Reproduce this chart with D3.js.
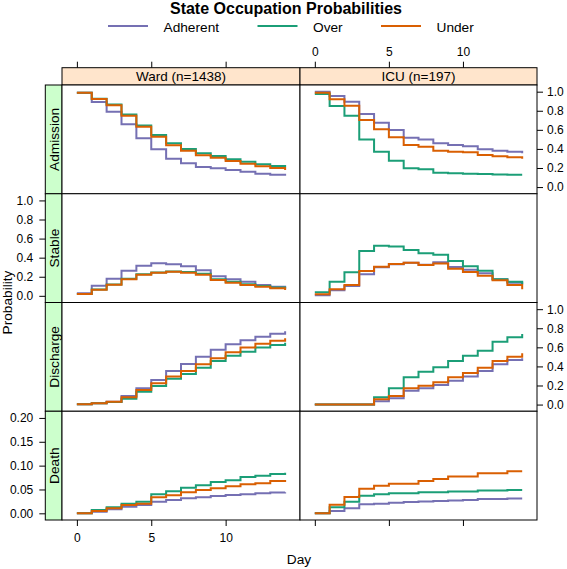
<!DOCTYPE html>
<html><head><meta charset="utf-8">
<script src="https://cdn.jsdelivr.net/npm/d3@7"></script>
<style>
body{margin:0;background:#fff}
svg{display:block}
text{font-family:"Liberation Sans",Arial,Helvetica,sans-serif;fill:#000}
</style>
</head><body>
<svg id="chart" width="567" height="569"></svg>
<script>
// ---------- data ----------
const days = [0,1,2,3,4,5,6,7,8,9,10,11,12,13,14];
const groups = ["Adherent","Over","Under"];
const groupColors = ["#7570B3","#1B9E77","#D95F02"];
const units = ["Ward (n=1438)","ICU (n=197)"];
const states = ["Admission","Stable","Discharge","Death"];
const probTicks = [0,0.2,0.4,0.6,0.8,1.0];
const deathTicks = [0,0.05,0.10,0.15,0.20];
const dayTicks = [0,5,10];

// Ward
const wardAdmissionAdherent = [0.99,0.892,0.79,0.658,0.511,0.396,0.297,0.249,0.21,0.197,0.179,0.161,0.14,0.13,0.12];
const wardAdmissionOver     = [0.99,0.925,0.865,0.76,0.645,0.545,0.459,0.399,0.354,0.326,0.291,0.266,0.238,0.221,0.21];
const wardAdmissionUnder    = [0.99,0.923,0.857,0.748,0.633,0.528,0.438,0.381,0.333,0.308,0.273,0.245,0.218,0.20,0.18];
const wardStableAdherent = [0.026,0.106,0.18,0.263,0.316,0.341,0.33,0.309,0.267,0.205,0.173,0.148,0.113,0.096,0.08];
const wardStableOver     = [0.02,0.066,0.12,0.178,0.225,0.245,0.255,0.25,0.232,0.175,0.148,0.122,0.103,0.088,0.075];
const wardStableUnder    = [0.019,0.064,0.117,0.173,0.222,0.243,0.253,0.243,0.222,0.166,0.138,0.113,0.096,0.079,0.06];
const wardDischargeAdherent = [0.003,0.013,0.03,0.09,0.17,0.258,0.352,0.425,0.502,0.575,0.632,0.674,0.712,0.743,0.768];
const wardDischargeOver     = [0.003,0.013,0.028,0.062,0.135,0.195,0.27,0.32,0.387,0.457,0.512,0.554,0.597,0.625,0.649];
const wardDischargeUnder    = [0.003,0.013,0.03,0.076,0.153,0.223,0.293,0.352,0.422,0.485,0.548,0.597,0.638,0.67,0.695];
const wardDeathAdherent = [0,0.0035,0.0084,0.014,0.0175,0.0245,0.028,0.0315,0.0336,0.0364,0.0385,0.040,0.042,0.0434,0.044];
const wardDeathOver     = [0,0.007,0.0126,0.020,0.0244,0.040,0.0462,0.0538,0.0587,0.0657,0.0692,0.0762,0.079,0.0824,0.085];
const wardDeathUnder    = [0,0.005,0.0105,0.0175,0.020,0.0336,0.0378,0.044,0.049,0.0524,0.0566,0.0608,0.063,0.0678,0.070];
// ICU
const icuAdmissionAdherent = [1.0,0.955,0.895,0.766,0.675,0.598,0.518,0.50,0.459,0.441,0.427,0.396,0.381,0.371,0.354];
const icuAdmissionOver     = [0.976,0.85,0.748,0.50,0.371,0.277,0.197,0.186,0.151,0.144,0.14,0.137,0.133,0.13,0.13];
const icuAdmissionUnder    = [0.99,0.92,0.853,0.703,0.605,0.522,0.441,0.423,0.381,0.371,0.364,0.336,0.322,0.312,0.297];
const icuStableAdherent = [0.005,0.058,0.103,0.226,0.299,0.33,0.348,0.327,0.352,0.302,0.274,0.236,0.173,0.138,0.12];
const icuStableOver     = [0.037,0.148,0.247,0.47,0.525,0.518,0.48,0.445,0.431,0.365,0.309,0.263,0.173,0.148,0.125];
const icuStableUnder    = [0.016,0.068,0.113,0.26,0.306,0.334,0.348,0.324,0.338,0.285,0.25,0.211,0.163,0.113,0.07];
const icuDischargeAdherent = [0,0,0,0,0.034,0.066,0.146,0.17,0.205,0.25,0.293,0.352,0.422,0.467,0.485];
const icuDischargeOver     = [0,0,0,0,0.076,0.17,0.286,0.345,0.39,0.457,0.512,0.565,0.659,0.705,0.74];
const icuDischargeUnder    = [0,0,0,0,0.055,0.09,0.17,0.198,0.233,0.286,0.331,0.387,0.457,0.502,0.537];
const icuDeathAdherent = [0,0.005,0.0105,0.019,0.020,0.022,0.0235,0.025,0.026,0.027,0.028,0.030,0.030,0.031,0.031];
const icuDeathOver     = [0,0.0126,0.0244,0.037,0.0398,0.042,0.042,0.044,0.044,0.0455,0.0455,0.0476,0.0476,0.049,0.049];
const icuDeathUnder    = [0,0.018,0.034,0.0516,0.058,0.0622,0.0622,0.068,0.072,0.077,0.077,0.0839,0.0839,0.088,0.088];

const panelData = {
  Admission: [[wardAdmissionAdherent,wardAdmissionOver,wardAdmissionUnder],[icuAdmissionAdherent,icuAdmissionOver,icuAdmissionUnder]],
  Stable:    [[wardStableAdherent,wardStableOver,wardStableUnder],[icuStableAdherent,icuStableOver,icuStableUnder]],
  Discharge: [[wardDischargeAdherent,wardDischargeOver,wardDischargeUnder],[icuDischargeAdherent,icuDischargeOver,icuDischargeUnder]],
  Death:     [[wardDeathAdherent,wardDeathOver,wardDeathUnder],[icuDeathAdherent,icuDeathOver,icuDeathUnder]]
};

// ---------- layout ----------
const svg = d3.select("#chart");
const colX = [[62,300],[300,537]];
const panelTop = 85, rowH = 108.75;
const stripTop = 67.7;
const leftStripX = 45.3;

const xScales = colX.map(c => d3.scaleLinear().domain([-1,15]).range(c));
const yScales = states.map((s,i) => {
  const top = panelTop + i*rowH, bot = top + rowH;
  const dom = s === "Death" ? [-0.014,0.214] : [-0.07,1.07];
  return d3.scaleLinear().domain(dom).range([bot, top]);
});

// title
svg.append("text").attr("x",286).attr("y",14).attr("text-anchor","middle")
  .style("font-size","16px").style("font-weight","bold").text("State Occupation Probabilities");

// legend
const legX = [108,257.5,381];
groups.forEach((g,i) => {
  svg.append("line").attr("x1",legX[i]).attr("x2",legX[i]+40).attr("y1",26).attr("y2",26)
    .attr("stroke",groupColors[i]).attr("stroke-width",2);
  svg.append("text").attr("x",legX[i]+55.5).attr("y",31.5).style("font-size","13.7px").text(g);
});

// orange strips (top)
units.forEach((u,j) => {
  svg.append("rect").attr("x",colX[j][0]).attr("y",stripTop).attr("width",colX[j][1]-colX[j][0])
    .attr("height",panelTop-stripTop).attr("fill","#ffe5cc").attr("stroke","#000").attr("stroke-width",1);
  svg.append("text").attr("x",(colX[j][0]+colX[j][1])/2).attr("y",81).attr("text-anchor","middle")
    .style("font-size","13.5px").text(u);
});

// green strips (left)
states.forEach((s,i) => {
  const top = panelTop + i*rowH;
  svg.append("rect").attr("x",leftStripX).attr("y",top).attr("width",62-leftStripX).attr("height",rowH)
    .attr("fill","#ccffcc").attr("stroke","#000").attr("stroke-width",1);
  svg.append("text").attr("transform",`translate(59.3,${top+rowH/2}) rotate(-90)`)
    .attr("text-anchor","middle").style("font-size","13.7px").text(s);
});

// panels
const line = d3.line().curve(d3.curveStepAfter);
states.forEach((s,i) => {
  const y = yScales[i];
  const top = panelTop + i*rowH;
  [0,1].forEach(j => {
    const x = xScales[j];
    svg.append("rect").attr("x",colX[j][0]).attr("y",top).attr("width",colX[j][1]-colX[j][0])
      .attr("height",rowH).attr("fill","#fff").attr("stroke","#000").attr("stroke-width",1);
    panelData[s][j].forEach((vals,k) => {
      svg.append("path").attr("d", line(days.map((d,t)=>[x(d), y(vals[t])])))
        .attr("fill","none").attr("stroke",groupColors[k]).attr("stroke-width",2)
        .attr("stroke-linejoin","miter");
    });
  });
});

// axes
function styleAxis(g){
  g.select(".domain").remove();
  g.selectAll("text").style("font-size","12px").style("font-family","'Liberation Sans',Arial,sans-serif");
  g.selectAll("line").attr("stroke","#000");
}
// y axes: alternate sides
states.forEach((s,i) => {
  const ticks = s === "Death" ? deathTicks : probTicks;
  const fmt = s === "Death" ? d3.format(".2f") : d3.format(".1f");
  if (i % 2 === 0) {
    svg.append("g").attr("transform","translate(537,0)")
      .call(d3.axisRight(yScales[i]).tickValues(ticks).tickFormat(fmt).tickSize(6).tickPadding(4))
      .call(styleAxis);
  } else {
    svg.append("g").attr("transform",`translate(${leftStripX},0)`)
      .call(d3.axisLeft(yScales[i]).tickValues(ticks).tickFormat(fmt).tickSize(6).tickPadding(6))
      .call(styleAxis);
  }
});
// x axes
[0,1].forEach(j => {
  const top = svg.append("g").attr("transform",`translate(0,${stripTop})`)
    .call(d3.axisTop(xScales[j]).tickValues(dayTicks).tickSize(6).tickPadding(6)).call(styleAxis);
  const bot = svg.append("g").attr("transform",`translate(0,${panelTop+4*rowH})`)
    .call(d3.axisBottom(xScales[j]).tickValues(dayTicks).tickSize(6).tickPadding(7)).call(styleAxis);
  if (j === 0) top.selectAll("text").remove();
  if (j === 1) bot.selectAll("text").remove();
});

// axis titles
svg.append("text").attr("x",299).attr("y",564).attr("text-anchor","middle").style("font-size","13.7px").text("Day");
svg.append("text").attr("transform",`translate(12,${panelTop+2*rowH}) rotate(-90)`)
  .attr("text-anchor","middle").style("font-size","13.7px").text("Probability");
</script>
</body></html>
